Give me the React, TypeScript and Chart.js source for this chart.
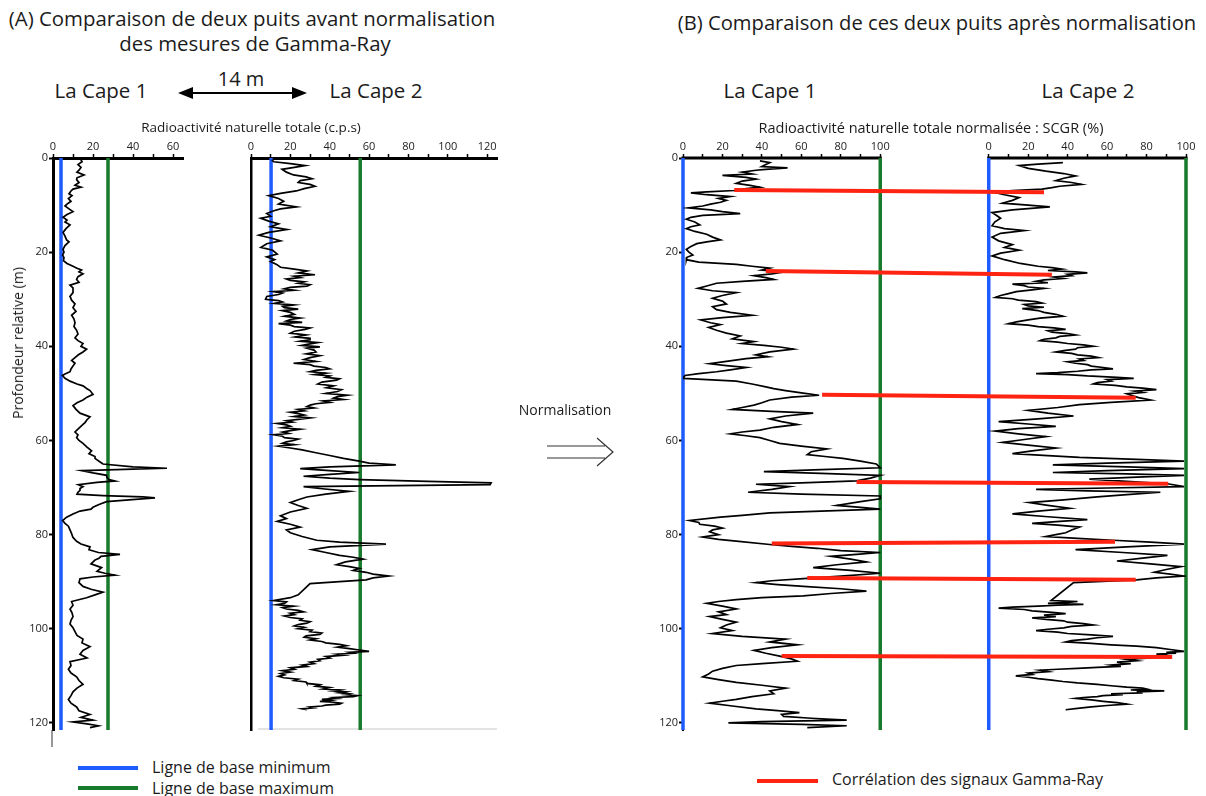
import React, { useEffect, useRef } from "react";
import { Chart, registerables } from "chart.js";
Chart.register(...registerables);

const FONT = '"Open Sans", "Noto Sans", sans-serif';

// ---------- axes / ticks ----------
const DEPTH_TICKS = [0, 20, 40, 60, 80, 100, 120];
const DEPTH_MAX = 121.5;
const RAW1_TICKS = [0, 10, 20, 30, 40, 50, 60];
const RAW1_MAX = 65;
const RAW2_TICKS = [0, 10, 20, 30, 40, 50, 60, 70, 80, 90, 100, 110, 120];
const RAW2_MAX = 125;
const NORM_TICKS = [0, 10, 20, 30, 40, 50, 60, 70, 80, 90, 100];
const NORM_OFFSET = 155; // horizontal gap between the two normalised tracks
const NORM_MAX = 255;

// ---------- baselines ----------
const baseMinRaw = [4, 10.2]; // La Cape 1, La Cape 2 (c.p.s)
const baseMaxRaw = [27.5, 55.5];
const baseMinNorm = 0;
const baseMaxNorm = 100;

// ---------- La Cape 1 raw (depth m, GR c.p.s) ----------
const cape1Raw: [number, number][] = [
  [0.2, 13.8], [0.8, 14.5], [1.4, 12.5], [2.0, 14], [2.6, 13], [3.0, 12], [3.6, 15.5], [4.2, 12], [4.6, 11.8], [5.2, 13],
  [5.8, 11], [6.2, 14], [6.6, 10], [7.0, 9], [7.6, 8], [8.0, 9.5], [8.6, 7.7], [9.2, 9], [9.8, 7], [10.2, 6],
  [10.8, 8], [11.4, 10], [12.0, 7], [12.6, 5], [13.2, 7], [13.6, 6], [14.2, 8.5], [15.0, 6.5], [15.8, 5], [16.6, 6],
  [17.4, 6.8], [17.8, 8], [18.6, 6], [19.4, 5], [20.0, 5.5], [20.6, 4.8], [21.2, 5.5], [21.8, 5.2], [22.4, 7], [23.0, 10],
  [23.4, 12], [23.8, 14.3], [24.2, 13], [24.6, 15], [25.2, 12.5], [25.8, 11.8], [26.4, 13], [27.0, 8.5], [27.6, 10], [28.6, 10],
  [29.4, 8.5], [30.2, 9.3], [31.0, 11], [31.8, 10], [32.6, 11.5], [33.4, 9.3], [34.2, 10.5], [35.0, 11], [35.8, 10.5], [36.6, 11.8],
  [37.4, 12.5], [38.2, 11], [38.8, 12.5], [39.4, 15], [40.0, 14], [40.6, 16.8], [41.2, 15], [41.8, 12.7], [42.4, 11], [43.0, 9.3],
  [43.6, 11], [44.2, 10], [44.8, 9], [45.4, 8.5], [45.9, 6], [46.2, 4.7], [46.8, 6], [47.4, 8.5], [48.0, 12], [48.4, 15],
  [49.0, 17], [49.4, 18.5], [50.2, 20], [50.8, 17], [51.4, 15], [52.0, 12], [52.6, 10], [53.4, 11.5], [54.2, 13.5], [55.0, 18.5],
  [55.6, 17], [56.2, 16], [56.6, 15], [57.4, 13], [58.2, 11], [58.8, 12.5], [59.4, 11.8], [60.0, 13], [60.6, 15], [61.4, 17],
  [62.2, 19.3], [62.8, 18], [63.4, 21], [63.8, 21], [64.4, 23], [65.0, 25], [65.6, 40], [65.9, 57], [66.1, 40], [66.4, 14.3],
  [66.9, 20], [67.4, 26.8], [67.9, 27], [68.3, 28], [68.6, 31], [68.9, 22], [69.4, 12.7], [69.8, 15], [70.2, 13.5], [70.6, 13.5],
  [71.0, 12.5], [71.4, 12], [71.7, 25], [72.0, 45], [72.2, 51], [72.6, 38], [73.0, 26.8], [73.6, 23], [74.2, 20], [74.6, 19],
  [75.0, 13.5], [75.6, 10], [76.3, 6.8], [77.0, 4.8], [77.6, 6], [78.2, 7.7], [79.0, 8.5], [79.8, 9.3], [80.6, 10], [81.4, 11.8],
  [82.0, 14], [82.6, 18.5], [83.2, 18], [83.8, 22.7], [84.2, 33.5], [84.6, 24], [85.0, 23], [85.4, 21], [86.2, 19], [87.0, 24.3],
  [87.8, 22], [88.2, 26], [88.6, 31], [89.0, 20], [89.4, 13.5], [90.2, 13], [91.0, 15], [91.6, 19], [92.2, 25], [92.8, 21],
  [93.4, 16.8], [94.2, 9.3], [95.0, 10], [95.8, 8.5], [96.6, 9.5], [97.4, 10], [98.2, 9], [99.0, 8.5], [99.8, 10], [100.6, 11],
  [101.4, 12], [102.2, 15], [103.0, 14.5], [103.8, 18.5], [104.6, 15], [105.4, 13.5], [106.2, 17], [107.0, 8.5], [107.8, 9], [108.6, 7.7],
  [109.4, 9], [110.2, 11.8], [111.0, 13], [111.8, 15], [112.6, 12], [113.4, 10], [114.2, 9], [115.0, 7.7], [115.8, 9], [116.6, 11.8],
  [117.4, 13], [118.2, 18.5], [118.8, 14], [119.4, 20], [119.8, 10], [120.2, 17], [120.6, 22.7], [121.0, 18.5],
];

// ---------- La Cape 2 raw (depth m, GR c.p.s) ----------
const cape2Raw: [number, number][] = [
  [0.4, 10.5], [0.8, 11.6], [1.2, 20], [1.6, 27.5], [2.0, 22], [2.4, 15.8], [3.0, 18], [3.6, 21.6], [4.0, 28], [4.4, 31],
  [4.8, 25], [5.2, 24], [5.6, 30], [6.0, 32.5], [6.5, 27], [7.0, 23], [7.5, 15], [8.0, 9], [8.6, 14], [9.2, 16.6],
  [9.8, 14], [10.4, 23], [10.8, 15], [11.2, 11.6], [11.8, 8], [12.4, 10], [12.8, 5], [13.4, 9], [14.0, 14], [14.6, 10],
  [15.2, 18.3], [15.8, 9], [16.4, 4], [17.0, 10], [17.6, 15], [18.2, 8], [19.0, 5], [19.6, 11], [20.4, 13.3], [21.0, 8],
  [21.6, 12], [22.0, 9.9], [22.6, 13], [23.2, 15], [23.6, 22], [24.0, 28.4], [24.4, 24], [24.8, 32.5], [25.1, 22], [25.4, 25],
  [25.7, 18], [26.0, 20], [26.3, 27], [26.6, 24], [26.9, 30], [27.2, 28.4], [27.5, 20], [27.8, 17], [28.1, 22], [28.4, 11.6],
  [28.7, 16], [29.0, 14], [29.4, 8], [30.0, 7.4], [30.3, 14], [30.6, 16], [30.9, 12], [31.2, 21.6], [31.5, 16], [31.8, 17],
  [32.1, 24], [32.4, 15.8], [32.8, 20], [33.2, 22], [33.6, 17], [34.0, 25], [34.3, 20], [34.6, 18], [34.9, 26], [35.2, 14],
  [35.5, 20], [35.8, 22], [36.1, 30], [36.4, 27.5], [36.8, 22], [37.2, 20], [37.6, 28], [38.0, 22.5], [38.3, 30], [38.6, 30],
  [38.9, 25], [39.2, 34], [39.5, 30], [39.8, 26], [40.1, 35], [40.4, 28.4], [40.8, 32], [41.2, 33], [41.6, 28], [42.0, 35],
  [42.4, 30], [42.8, 27], [43.2, 33], [43.6, 21.6], [43.9, 30], [44.2, 32], [44.5, 38], [44.8, 40], [45.1, 33], [45.4, 30],
  [45.7, 38], [46.0, 32.5], [46.3, 40], [46.6, 38], [46.9, 45], [47.2, 43.5], [47.6, 36], [48.0, 34], [48.4, 42], [48.8, 38.4],
  [49.2, 46], [49.6, 44], [50.0, 38], [50.4, 49], [50.7, 44], [51.0, 42], [51.3, 47], [51.6, 36.7], [51.9, 40], [52.2, 33],
  [52.5, 30], [52.8, 28.4], [53.1, 32], [53.4, 24], [53.7, 27], [54.0, 20], [54.3, 24], [54.6, 27], [54.9, 22], [55.2, 30],
  [55.5, 24], [55.8, 18], [56.1, 21], [56.4, 13.3], [56.7, 18], [57.0, 20], [57.3, 16], [57.6, 25], [57.9, 20], [58.2, 16],
  [58.5, 19], [58.8, 11.6], [59.1, 16], [59.4, 17], [59.7, 24], [60.0, 21.6], [60.3, 18], [60.6, 16], [60.9, 22], [61.2, 14],
  [61.6, 20], [62.0, 26], [62.6, 33], [63.2, 40], [63.8, 47], [64.4, 55], [64.8, 60], [65.2, 73.6], [65.6, 40], [66.0, 25],
  [66.4, 40], [66.8, 55], [67.2, 40], [67.6, 26.7], [68.0, 40], [68.3, 55], [68.7, 90], [69.0, 122], [69.4, 121.5], [69.8, 26.7],
  [70.2, 35], [70.8, 50], [71.4, 38], [72.0, 28.4], [72.6, 24], [73.2, 20], [73.8, 24], [74.4, 28.4], [75.2, 20], [76.0, 15],
  [76.6, 18], [77.2, 13.3], [77.8, 20], [78.4, 25], [79.0, 18], [79.6, 20], [80.4, 26], [81.2, 33.4], [81.6, 45], [82.0, 68.6],
  [82.6, 40], [83.2, 31], [83.8, 38], [84.4, 45], [84.8, 52], [85.2, 57], [85.8, 48], [86.4, 43.5], [86.8, 50], [87.2, 55],
  [87.6, 52], [88.0, 58.5], [88.4, 62], [88.8, 70], [89.2, 62], [89.6, 58.5], [90.0, 45], [90.4, 30], [92.8, 24], [93.4, 20],
  [94.0, 11.6], [94.3, 18], [94.6, 17], [94.9, 13], [95.2, 21.6], [95.5, 16], [95.8, 18], [96.1, 24], [96.4, 26.7], [96.7, 20],
  [97.0, 22], [97.3, 17], [97.6, 20], [97.9, 26], [98.2, 25], [98.5, 30], [98.8, 28.4], [99.1, 24], [99.4, 22], [99.7, 27],
  [100.0, 24], [100.3, 31], [100.6, 30], [100.9, 36], [101.2, 35], [101.5, 28], [101.8, 27], [102.1, 33], [102.4, 30], [102.7, 36],
  [103.0, 38], [103.3, 45], [103.6, 48.5], [103.9, 44], [104.2, 50], [104.5, 55], [104.8, 60], [105.0, 50], [105.2, 52], [105.4, 44],
  [105.6, 47], [105.9, 38], [106.2, 40], [106.5, 34], [106.8, 35], [107.1, 30], [107.4, 32], [107.7, 26], [108.0, 28.4], [108.3, 20],
  [108.6, 22], [108.9, 16], [109.2, 20], [109.5, 15], [109.8, 17], [110.1, 14], [110.4, 16.6], [110.7, 24], [111.0, 22], [111.3, 28],
  [111.6, 28.4], [111.9, 35], [112.2, 33], [112.5, 40], [112.8, 36.7], [113.0, 45], [113.2, 42], [113.4, 48], [113.6, 45], [113.8, 50],
  [114.0, 48], [114.2, 54], [114.4, 52], [114.6, 42], [114.8, 44], [115.0, 36], [115.2, 40], [115.4, 35], [115.6, 42], [115.8, 46],
  [116.0, 45], [116.2, 38], [116.4, 36], [116.6, 30], [116.8, 31.7], [117.0, 26], [117.2, 28.4],
];

// ---------- La Cape 1 normalised SCGR (depth m, %) ----------
const cape1Norm: [number, number][] = [
  [0.6, 39], [1.0, 44], [1.4, 42], [1.8, 40], [2.1, 53], [2.4, 42], [2.6, 37], [3.0, 30], [3.4, 35], [3.7, 20],
  [4.1, 32], [4.5, 37], [4.9, 30], [5.4, 27], [5.8, 34], [6.2, 39], [6.6, 30], [6.9, 26], [7.2, 12], [7.4, 4],
  [7.8, 12], [8.2, 24], [8.6, 18], [9.0, 22], [9.4, 19], [9.8, 14], [10.2, 10], [10.6, 2.5], [11.0, 14], [11.4, 20],
  [11.8, 29], [12.2, 10], [12.6, 4], [13.0, 1.7], [13.6, 6], [14.2, 8.5], [14.6, 4], [15.0, 1.7], [15.6, 6], [16.2, 12],
  [16.8, 15], [17.4, 19], [17.8, 12], [18.2, 7], [18.8, 4], [19.4, 1.7], [20.0, 3], [20.6, 5], [21.1, 2], [21.6, 1.7],
  [22.1, 8], [22.6, 27], [23.0, 35], [23.4, 44], [23.8, 40], [24.2, 51], [24.6, 45], [25.0, 36], [25.4, 42], [25.8, 46],
  [26.2, 30], [26.6, 17], [27.2, 12], [27.7, 7.6], [28.2, 15], [28.6, 27], [29.2, 20], [29.8, 15], [30.4, 20], [31.0, 22],
  [31.6, 15], [32.2, 17], [32.8, 24], [33.4, 35], [33.9, 20], [34.4, 9], [35.0, 14], [35.4, 19], [36.0, 13], [36.6, 17],
  [37.2, 22], [37.8, 29], [38.4, 25], [39.0, 36], [39.4, 30], [39.8, 41], [40.2, 50], [40.6, 56], [41.2, 44], [41.8, 37],
  [42.2, 43], [42.6, 32], [43.2, 22], [43.7, 13.5], [44.1, 22], [44.5, 32], [45.0, 24], [45.4, 17], [45.8, 8], [46.2, 1],
  [46.8, 0], [47.4, 27], [48.0, 35], [48.6, 42], [49.0, 46], [49.4, 52], [49.9, 60], [50.4, 69], [50.8, 55], [51.4, 44],
  [52.0, 40], [52.5, 36], [53.0, 30], [53.4, 25], [53.8, 45], [54.2, 66], [54.8, 52], [55.4, 44], [56.0, 50], [56.6, 58],
  [57.2, 46], [57.8, 39], [58.2, 30], [58.6, 24], [59.0, 32], [59.4, 39], [60.0, 44], [60.6, 49], [61.2, 60], [61.8, 73],
  [62.4, 65], [63.0, 63], [63.4, 72], [63.8, 81], [64.4, 90], [65.0, 98], [65.8, 100], [66.2, 70], [66.6, 41], [67.0, 70],
  [67.4, 100], [68.0, 95], [68.6, 88], [69.0, 60], [69.3, 37], [69.8, 54], [70.4, 45], [71.0, 33], [71.4, 60], [71.8, 100],
  [72.4, 100], [73.0, 90], [73.8, 78], [74.2, 90], [74.6, 100], [75.0, 70], [75.4, 44], [75.9, 30], [76.3, 19], [77.0, 3.4],
  [77.4, 8], [77.8, 8.5], [78.2, 16], [78.6, 20], [79.0, 15], [79.4, 13.5], [80.0, 18], [80.5, 10], [81.0, 18], [81.4, 27],
  [82.1, 44], [82.5, 55], [82.9, 68], [83.4, 80], [83.8, 100], [84.2, 88], [84.6, 75], [85.2, 85], [85.8, 93], [86.4, 78],
  [87.0, 66], [87.6, 85], [88.2, 100], [88.8, 80], [89.3, 63], [89.8, 45], [90.2, 37], [90.6, 48], [91.0, 61], [91.5, 80],
  [92.0, 93], [92.5, 75], [93.0, 61], [93.4, 40], [93.8, 27], [94.2, 18], [94.6, 12], [95.2, 20], [95.8, 27], [96.4, 18],
  [97.0, 22], [97.4, 13.5], [98.0, 20], [98.6, 27], [99.2, 22], [99.8, 19], [100.4, 25], [101.0, 15], [101.6, 30], [102.2, 52],
  [102.8, 44], [103.4, 58], [104.0, 45], [104.6, 36], [105.2, 42], [105.8, 49], [106.4, 55], [106.9, 58], [107.4, 40], [107.8, 27],
  [108.4, 20], [109.0, 15], [109.6, 13], [110.2, 10], [110.8, 18], [111.4, 27], [112.0, 40], [112.6, 52], [113.2, 44], [113.8, 46],
  [114.4, 35], [115.0, 27], [115.4, 20], [115.8, 13.5], [116.4, 25], [117.0, 37], [117.4, 48], [117.8, 59], [118.2, 50], [118.6, 51],
  [119.0, 65], [119.4, 83], [119.7, 40], [120.0, 23], [120.3, 60], [120.6, 83], [121.0, 63],
];

// ---------- La Cape 2 normalised SCGR (depth m, %) ----------
const cape2Norm: [number, number][] = [
  [1.0, 37.6], [1.3, 25], [1.6, 15.4], [2.2, 20], [2.8, 29], [3.3, 38], [3.8, 44], [4.3, 38], [4.8, 34], [5.2, 42],
  [5.6, 47], [6.0, 36], [6.3, 32], [6.6, 27], [6.9, 12], [7.2, 1.7], [7.8, 8], [8.4, 15.4], [9.0, 12], [9.6, 7],
  [10.0, 20], [10.4, 31], [11.0, 12], [11.6, 1.7], [12.2, 4], [12.8, 6], [13.6, 3], [14.4, 1.7], [15.0, 8], [15.4, 18],
  [16.0, 6], [16.8, 1.7], [17.6, 5], [18.4, 12], [19.0, 8], [19.6, 15.4], [20.2, 6], [20.8, 1.7], [21.6, 8], [22.4, 16],
  [23.0, 25], [23.3, 32], [23.6, 37], [23.9, 30], [24.2, 44], [24.4, 50], [24.7, 40], [25.0, 42], [25.3, 33], [25.6, 37.6],
  [25.9, 28], [26.2, 24], [26.5, 30], [26.8, 12], [27.1, 18], [27.4, 20], [27.7, 28], [28.0, 22], [28.4, 14], [28.8, 10],
  [29.2, 6], [29.6, 3.4], [29.9, 12], [30.2, 15], [30.5, 24], [30.8, 27], [31.1, 18], [31.4, 20], [31.7, 28], [32.0, 17],
  [32.4, 25], [32.8, 28], [33.2, 34], [33.6, 37.6], [34.0, 26], [34.4, 20], [34.8, 14], [35.2, 10], [35.5, 20], [35.8, 25],
  [36.1, 33], [36.4, 39], [36.7, 30], [37.0, 32], [37.3, 40], [37.6, 44], [37.9, 36], [38.2, 34], [38.5, 28], [38.8, 26],
  [39.1, 35], [39.4, 40], [39.7, 48], [40.0, 53], [40.3, 45], [40.6, 44], [40.9, 38], [41.2, 34], [41.5, 42], [41.8, 45],
  [42.1, 52], [42.4, 55.5], [42.7, 46], [43.0, 48], [43.3, 40], [43.6, 44], [43.9, 50], [44.2, 52], [44.5, 58], [44.8, 63],
  [45.0, 52], [45.3, 45], [45.6, 35], [45.8, 24], [46.0, 40], [46.3, 50], [46.6, 65], [46.8, 73.5], [47.1, 60], [47.4, 62],
  [47.7, 55], [48.0, 53], [48.3, 64], [48.6, 70], [48.9, 78], [49.2, 85], [49.5, 74], [49.8, 78], [50.1, 70], [50.4, 72],
  [50.9, 76], [51.4, 82], [51.9, 62], [52.4, 46], [53.0, 35], [53.6, 20], [54.2, 30], [54.8, 43], [55.4, 25], [56.0, 5],
  [56.5, 20], [57.0, 34], [57.5, 15], [58.0, 3.4], [58.6, 15], [59.2, 29], [59.8, 18], [60.4, 7], [61.0, 20], [61.6, 34],
  [62.2, 22], [62.8, 12], [63.2, 30], [63.6, 46], [64.0, 75], [64.4, 99], [64.8, 60], [65.2, 32.5], [65.6, 70], [66.0, 99],
  [66.4, 60], [66.8, 32.5], [67.1, 70], [67.4, 99], [67.8, 75], [68.2, 51], [68.7, 70], [69.2, 90.6], [69.8, 99], [70.1, 60],
  [70.4, 24], [70.7, 50], [71.0, 87], [71.5, 70], [72.0, 55], [72.6, 38], [73.2, 20.5], [73.8, 30], [74.4, 41], [75.0, 25],
  [75.6, 12], [76.2, 30], [76.8, 50], [77.2, 36], [77.6, 22], [78.0, 35], [78.4, 46], [79.0, 42], [79.6, 39], [80.0, 34],
  [80.4, 29], [80.8, 45], [81.2, 63], [81.6, 82], [82.0, 99], [82.6, 70], [83.2, 44], [83.8, 68], [84.4, 90.6], [85.0, 78],
  [85.6, 65], [86.2, 82], [86.8, 97.4], [87.4, 90], [88.0, 84], [88.4, 92], [88.8, 99], [89.2, 85], [89.6, 75], [90.2, 43],
  [94.0, 31.6], [94.2, 45], [94.4, 40], [94.6, 30], [94.8, 48], [95.0, 35], [95.2, 25], [95.4, 12], [95.6, 5], [95.9, 18],
  [96.2, 22], [96.5, 32], [96.8, 39], [97.1, 28], [97.4, 34], [97.7, 22], [98.0, 29], [98.3, 38], [98.6, 40], [98.9, 48],
  [99.2, 53], [99.5, 42], [99.8, 38], [100.1, 30], [100.4, 24], [100.7, 35], [101.0, 40], [101.3, 52], [101.6, 63], [101.9, 55],
  [102.2, 50], [102.5, 42], [102.8, 39], [103.1, 52], [103.4, 62], [103.7, 75], [104.0, 85], [104.4, 92], [104.8, 99], [105.0, 90],
  [105.2, 95], [105.4, 85], [105.6, 90.6], [105.9, 80], [106.2, 82], [106.5, 70], [106.8, 75], [107.1, 65], [107.4, 72], [107.7, 62],
  [108.0, 67], [108.2, 55], [108.4, 45], [108.6, 35], [108.8, 26], [109.1, 30], [109.4, 20], [109.7, 22], [110.0, 13.7], [110.3, 20],
  [110.6, 25], [110.9, 32], [111.2, 37.6], [111.5, 45], [111.8, 55], [112.1, 62], [112.4, 70], [112.6, 78], [112.8, 80], [113.0, 72],
  [113.2, 89], [113.4, 75], [113.6, 78], [113.8, 62], [114.0, 68], [114.2, 58], [114.4, 55], [114.6, 48], [114.8, 44], [115.1, 52],
  [115.4, 58], [115.7, 65], [116.0, 70], [116.3, 60], [116.6, 52], [116.9, 45], [117.2, 39],
];

// ---------- Gamma-Ray correlations (panel B) ----------
const corrDepthCape1 = [6.8, 24.0, 50.3, 68.8, 81.9, 89.2, 105.8];
const corrValCape1 = [26, 42, 70.5, 88, 45, 63, 50];
const corrDepthCape2 = [7.3, 24.8, 50.9, 69.2, 81.5, 89.6, 106.0];
const corrValCape2 = [28, 32, 74.5, 91, 64, 74.5, 93];

const BLUE = "#1f5cff";
const GREEN = "#187a2c";
const RED = "#ff2412";
const INK = "#1b1b1b";

const axisExtras = {
  id: "axisExtras",
  beforeDatasetsDraw(chart: any, _a: any, opts: any) {
    const { ctx, chartArea, scales } = chart;
    ctx.save();
    if (opts && opts.segments) {
      ctx.strokeStyle = "#000";
      ctx.lineWidth = 3;
      for (const [a, b] of opts.segments) {
        ctx.beginPath();
        ctx.moveTo(scales.x.getPixelForValue(a) - 1.5, chartArea.top);
        ctx.lineTo(scales.x.getPixelForValue(b) + 1.5, chartArea.top);
        ctx.stroke();
      }
    }
    if (opts && opts.bottomLine) {
      ctx.strokeStyle = "rgba(0,0,0,0.15)";
      ctx.lineWidth = 1.5;
      ctx.beginPath();
      ctx.moveTo(chartArea.left + 7, chartArea.bottom - 1);
      ctx.lineTo(chartArea.right, chartArea.bottom - 1);
      ctx.stroke();
    }
    if (opts && opts.stub) {
      ctx.strokeStyle = "#333";
      ctx.lineWidth = 1;
      ctx.beginPath();
      ctx.moveTo(chartArea.left - 1, chartArea.bottom);
      ctx.lineTo(chartArea.left - 1, chartArea.bottom + opts.stub);
      ctx.stroke();
    }
    ctx.restore();
  },
};

const curve = (pts: [number, number][], off: number) => ({
  data: pts.map(([d, v]) => ({ x: v + off, y: d })),
  borderColor: "#000",
  borderWidth: 1.7,
  showLine: true,
  pointRadius: 0,
  order: 1,
});
const vline = (x: number, color: string) => ({
  data: [{ x, y: 0 }, { x, y: DEPTH_MAX }],
  borderColor: color,
  borderWidth: 3.5,
  showLine: true,
  pointRadius: 0,
  clip: false,
  order: 2,
});

function makeOptions(o: any) {
  const tickFont = { family: FONT, size: 11 };
  return {
    responsive: false,
    animation: false,
    devicePixelRatio: 1,
    events: [],
    layout: { padding: { left: 0, top: 0, right: o.padRight, bottom: 20 } },
    plugins: { legend: { display: false }, tooltip: { enabled: false }, axisExtras: o.extras || {} },
    scales: {
      x: {
        type: "linear",
        position: "top",
        min: 0,
        max: o.xMax,
        afterBuildTicks: (s: any) => {
          s.ticks = o.xTicks.map((v: number) => ({ value: v }));
        },
        afterFit: (s: any) => {
          s.height = 28;
        },
        ticks: {
          callback: (_v: any, i: number, ticks: any[]) => o.xLabel(ticks[i].value),
          font: tickFont,
          color: "#222",
          padding: 1,
          maxRotation: 0,
          autoSkip: false,
        },
        grid: { display: true, drawOnChartArea: false, drawTicks: true, tickLength: 4, tickWidth: 1.5, tickColor: "#000" },
        border: { display: o.xBorder, color: "#000", width: 3 },
      },
      y: {
        type: "linear",
        reverse: true,
        min: 0,
        max: DEPTH_MAX,
        afterBuildTicks: (s: any) => {
          s.ticks = DEPTH_TICKS.map((v) => ({ value: v }));
        },
        afterFit: (s: any) => {
          s.width = o.yWidth;
        },
        ticks: { display: o.yLabels, font: tickFont, color: "#222", padding: 1, autoSkip: false },
        grid: { display: true, drawOnChartArea: false, drawTicks: o.yLabels, tickLength: 4, tickWidth: 2, tickColor: "#000" },
        border: { display: true, color: "#000", width: o.yBorder },
      },
    },
  };
}

function LogChart(props: { left: number; width: number; datasets: any[]; options: any }) {
  const ref = useRef<HTMLCanvasElement>(null);
  useEffect(() => {
    const chart = new Chart(ref.current as HTMLCanvasElement, {
      type: "scatter",
      data: { datasets: props.datasets },
      options: props.options,
      plugins: [axisExtras],
    } as any);
    return () => chart.destroy();
  }, []);
  return (
    <canvas
      ref={ref}
      width={props.width}
      height={620}
      style={{ position: "absolute", left: props.left, top: 130, width: props.width, height: 620 }}
    />
  );
}

const Txt = (p: { x: number; y: number; size: number; mid?: boolean; rot?: number; children: any }) => (
  <div
    style={{
      position: "absolute",
      left: p.x,
      top: p.y,
      fontSize: p.size,
      lineHeight: 1,
      whiteSpace: "nowrap",
      color: INK,
      transform: `translate(${p.mid ? "-50%" : "0"}, -50%)${p.rot ? ` rotate(${p.rot}deg)` : ""}`,
    }}
  >
    {p.children}
  </div>
);

export default function App() {
  const a1Datasets = [curve(cape1Raw, 0), vline(baseMinRaw[0], BLUE), vline(baseMaxRaw[0], GREEN)];
  const a2Datasets = [curve(cape2Raw, 0), vline(baseMinRaw[1], BLUE), vline(baseMaxRaw[1], GREEN)];
  const corr = corrDepthCape1.map((d1, i) => ({
    data: [
      { x: corrValCape1[i], y: d1 },
      { x: corrValCape2[i] + NORM_OFFSET, y: corrDepthCape2[i] },
    ],
    borderColor: RED,
    borderWidth: 4,
    showLine: true,
    pointRadius: 0,
    order: 0,
  }));
  const bDatasets = [
    ...corr,
    curve(cape1Norm, 0),
    curve(cape2Norm, NORM_OFFSET),
    vline(baseMinNorm, BLUE),
    vline(baseMaxNorm, GREEN),
    vline(baseMinNorm + NORM_OFFSET, BLUE),
    vline(baseMaxNorm + NORM_OFFSET, GREEN),
  ];
  const label20 = (v: number) => (v % 20 === 0 ? String(v) : "");
  const a1Opts = makeOptions({
    xMax: RAW1_MAX, xTicks: RAW1_TICKS, xLabel: label20, xBorder: true,
    yWidth: 53, yLabels: true, yBorder: 3, padRight: 17, extras: { stub: 17 },
  });
  const a2Opts = makeOptions({
    xMax: RAW2_MAX, xTicks: RAW2_TICKS, xLabel: label20, xBorder: true,
    yWidth: 51, yLabels: false, yBorder: 2.5, padRight: 23, extras: { bottomLine: true },
  });
  const bTicks = [...NORM_TICKS, ...NORM_TICKS.map((v) => v + NORM_OFFSET)];
  const bOpts = makeOptions({
    xMax: NORM_MAX, xTicks: bTicks,
    xLabel: (v: number) => label20(v >= NORM_OFFSET ? v - NORM_OFFSET : v),
    xBorder: false, yWidth: 53, yLabels: true, yBorder: 2, padRight: 20,
    extras: { segments: [[0, 100], [NORM_OFFSET, NORM_OFFSET + 100]] },
  });

  return (
    <div
      style={{
        position: "absolute", left: 0, top: 0, width: 1206, height: 796, overflow: "hidden",
        background: "#fff", fontFamily: FONT,
      }}
    >
      <LogChart left={0} width={200} datasets={a1Datasets} options={a1Opts} />
      <LogChart left={200} width={320} datasets={a2Datasets} options={a2Opts} />
      <LogChart left={630} width={576} datasets={bDatasets} options={bOpts} />

      <Txt x={252} y={18} size={20.4} mid>(A) Comparaison de deux puits avant normalisation</Txt>
      <Txt x={255} y={43} size={20.4} mid>des mesures de Gamma-Ray</Txt>
      <Txt x={937} y={22} size={20.2} mid>(B) Comparaison de ces deux puits après normalisation</Txt>
      <Txt x={101} y={90} size={20.5} mid>La Cape 1</Txt>
      <Txt x={376} y={90} size={20.5} mid>La Cape 2</Txt>
      <Txt x={241} y={79} size={20} mid>14 m</Txt>
      <Txt x={770} y={90} size={20.5} mid>La Cape 1</Txt>
      <Txt x={1088} y={90} size={20.5} mid>La Cape 2</Txt>
      <Txt x={251} y={128} size={13.5} mid>Radioactivité naturelle totale (c.p.s)</Txt>
      <Txt x={931} y={128} size={14.5} mid>Radioactivité naturelle totale normalisée : SCGR (%)</Txt>
      <Txt x={18} y={343} size={14} mid rot={-90}>Profondeur relative (m)</Txt>
      <Txt x={565} y={410} size={14} mid>Normalisation</Txt>
      <Txt x={152} y={767} size={16}>Ligne de base minimum</Txt>
      <Txt x={152} y={788} size={16}>Ligne de base maximum</Txt>
      <Txt x={832} y={779} size={16}>Corrélation des signaux Gamma-Ray</Txt>

      <svg width={1206} height={796} style={{ position: "absolute", left: 0, top: 0, pointerEvents: "none" }}>
        <line x1={188} y1={93} x2={297} y2={93} stroke="#000" strokeWidth={2} />
        <polygon points="178,93 193,87 193,99" fill="#000" />
        <polygon points="307,93 292,87 292,99" fill="#000" />
        <path d="M547 446 H605 M547 458 H605 M597 438 L613 452 L597 466" stroke="#333" strokeWidth={1.2} fill="none" />
        <line x1={78} y1={768} x2={138} y2={768} stroke={BLUE} strokeWidth={4} />
        <line x1={78} y1={788} x2={138} y2={788} stroke={GREEN} strokeWidth={4} />
        <line x1={757} y1={781} x2={818} y2={781} stroke={RED} strokeWidth={4} />
      </svg>
    </div>
  );
}
